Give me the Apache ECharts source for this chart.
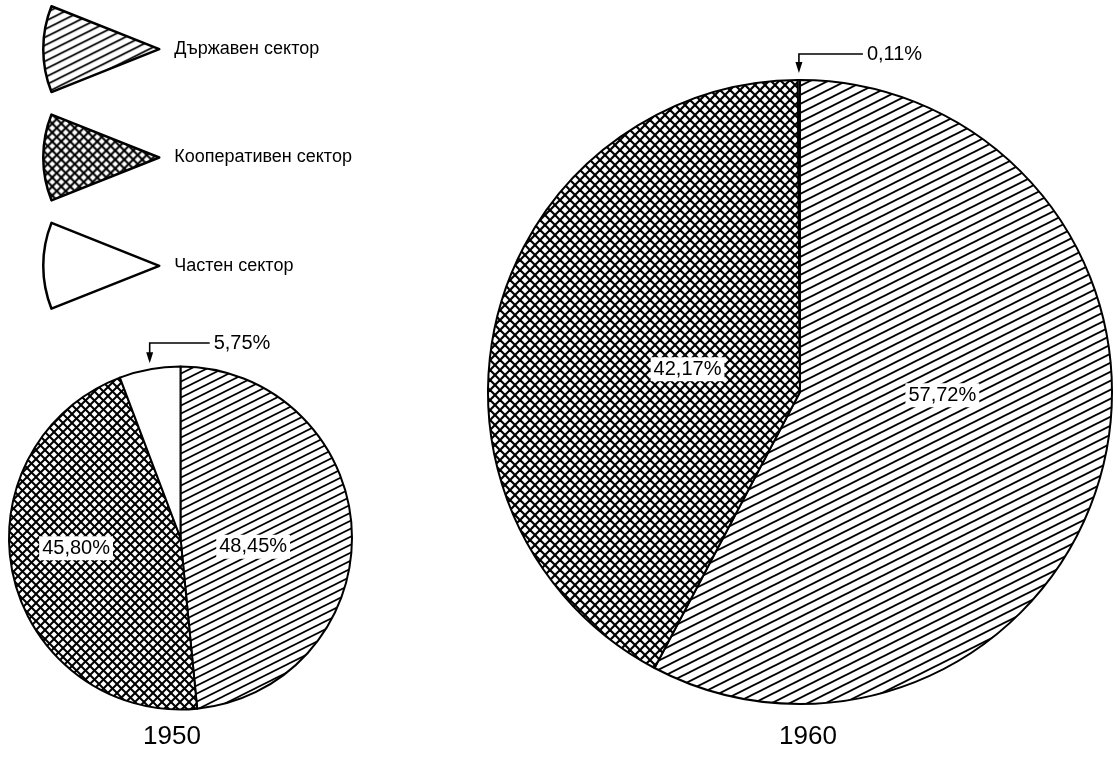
<!DOCTYPE html>
<html>
<head>
<meta charset="utf-8">
<script src="https://cdn.jsdelivr.net/npm/echarts@6/dist/echarts.min.js"></script>
<style>
  html, body { margin: 0; background: #fff; }
  #chart { width: 1118px; height: 758px; }
</style>
</head>
<body>
<div id="chart"></div>
<script>
// дял на секторите, %
const sectors = ['Държавен сектор', 'Кооперативен сектор', 'Частен сектор']
const years = ['1950', '1960']
const share1950 = [48.45, 45.80, 5.75]
const share1960 = [57.72, 42.17, 0.11]

const FONT = '"Liberation Sans", Arial, sans-serif'

// diagonal hatching tile, lines rising to the right
function hatch (w, h, lw) {
  const c = document.createElement('canvas')
  c.width = w; c.height = h
  const g = c.getContext('2d')
  g.fillStyle = '#fff'; g.fillRect(0, 0, w, h)
  g.strokeStyle = '#000'; g.lineWidth = lw
  for (const k of [-1, 0, 1]) {
    g.beginPath()
    g.moveTo(-w, 2 * h + k * h)
    g.lineTo(2 * w, -h + k * h)
    g.stroke()
  }
  return { image: c, repeat: 'repeat' }
}

// 45° cross hatching tile
function cross (s, lw) {
  const c = document.createElement('canvas')
  c.width = s; c.height = s
  const g = c.getContext('2d')
  g.fillStyle = '#fff'; g.fillRect(0, 0, s, s)
  g.strokeStyle = '#000'; g.lineWidth = lw
  for (const k of [-1, 0, 1]) {
    g.beginPath(); g.moveTo(-s, -s + k * s); g.lineTo(2 * s, 2 * s + k * s); g.stroke()
    g.beginPath(); g.moveTo(-s, 2 * s + k * s); g.lineTo(2 * s, -s + k * s); g.stroke()
  }
  return { image: c, repeat: 'repeat' }
}

const pies = [
  {
    year: years[0], values: share1950, center: [180.5, 538], radius: 171.5,
    fills: [hatch(16, 8, 1.7), cross(9, 2), '#fff'],
    nudge: [[-16, 13], [-18, -10]], note: { dx: 64, y: 343, gap: 6 }, yearX: 172
  },
  {
    year: years[1], values: share1960, center: [800, 392], radius: 312,
    fills: [hatch(18, 9, 1.9), cross(10, 2.2), '#fff'],
    nudge: [[-12, -35], [42, 15]], note: { dx: 68, y: 54, gap: 7 }, yearX: 808
  }
]

const fmt = v => v.toFixed(2).replace('.', ',') + '%'

// outer point of the small (private) slice, at its mid angle
function notePoint (p) {
  const total = p.values.reduce((a, b) => a + b, 0)
  const before = p.values[0] + p.values[1]
  const ang = (before + p.values[2] / 2) / total * 2 * Math.PI
  return [p.center[0] + p.radius * Math.sin(ang), p.center[1] - p.radius * Math.cos(ang)]
}

const graphics = []
pies.forEach(p => {
  const [x, y] = notePoint(p)
  const tip = y - p.note.gap
  graphics.push({
    type: 'polyline', silent: true,
    shape: { points: [[x + p.note.dx - 4, p.note.y], [x, p.note.y], [x, tip - 8]] },
    style: { stroke: '#000', lineWidth: 1.6, fill: null }
  })
  graphics.push({
    type: 'polygon', silent: true,
    shape: { points: [[x - 3.5, tip - 11], [x + 3.5, tip - 11], [x, tip]] },
    style: { fill: '#000' }
  })
})

const chart = echarts.init(document.getElementById('chart'))
chart.setOption({
  animation: false,
  backgroundColor: '#fff',
  title: pies.map(p => ({
    text: p.year,
    left: p.yearX, top: 724, textAlign: 'center', padding: 0,
    textStyle: { fontSize: 26, fontWeight: 'normal', color: '#000', fontFamily: FONT }
  })),
  legend: {
    data: sectors,
    orient: 'vertical', left: 42, top: 5, padding: 0,
    itemWidth: 116, itemHeight: 86, itemGap: 20,
    icon: 'path://M116 43 L8 0 A116.2 116.2 0 0 0 8 86 Z',
    itemStyle: { borderColor: '#000', borderWidth: 2.5 },
    textStyle: { fontSize: 18, color: '#000', fontFamily: FONT, padding: [0, 0, 0, 10], letterSpacing: 0.5 },
    selectedMode: false
  },
  graphic: graphics,
  series: pies.map(p => ({
    type: 'pie',
    name: p.year,
    center: p.center,
    radius: p.radius,
    startAngle: 90,
    clockwise: true,
    silent: true,
    avoidLabelOverlap: false,
    emphasis: { disabled: true },
    itemStyle: { borderColor: '#000', borderWidth: 2 },
    label: {
      position: 'inside',
      formatter: params => fmt(params.value),
      fontSize: 20, color: '#000', fontFamily: FONT,
      backgroundColor: '#fff', padding: [2, 3]
    },
    labelLine: { show: false },
    labelLayout: params => {
      const i = params.dataIndex
      if (i < 2) return { dx: p.nudge[i][0], dy: p.nudge[i][1] }
      const [x] = notePoint(p)
      return { x: x + p.note.dx, y: p.note.y, align: 'left', verticalAlign: 'middle' }
    },
    data: sectors.map((name, i) => ({
      name,
      value: p.values[i],
      itemStyle: { color: p.fills[i] },
      label: i === 2 ? { position: 'outside', backgroundColor: 'transparent', padding: 0 } : undefined,
      labelLine: { show: false }
    }))
  }))
})
</script>
</body>
</html>
